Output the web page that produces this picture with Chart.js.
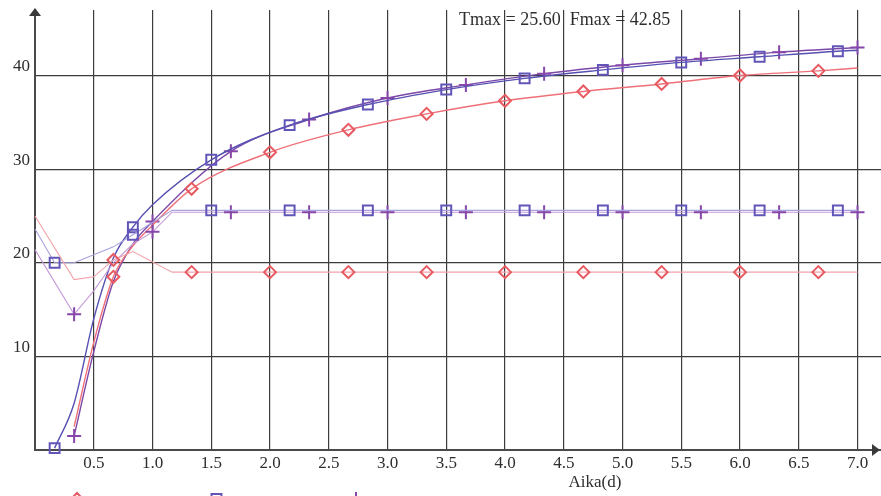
<!DOCTYPE html>
<html>
<head>
<meta charset="utf-8">
<script src="https://cdn.jsdelivr.net/npm/chart.js@4"></script>
<style>
  body { margin: 0; background: #fff; }
  canvas { display: block; }
</style>
</head>
<body>
<canvas id="chart" width="881" height="496"></canvas>
<script>
// days (d) and values
const redRiseX = [0.333, 0.5, 0.667, 0.833, 1.0, 1.333, 2.0, 2.667, 3.333, 4.0, 4.667, 5.333, 6.0, 6.667, 7.0];
const redRiseY = [2.5, 11.5, 18.5, 21.8, 24.0, 27.9, 31.8, 34.2, 35.9, 37.3, 38.3, 39.1, 40.0, 40.5, 40.8];

const redFlatX = [0, 0.333, 0.5, 0.667, 0.833, 1.167, 1.333, 2.0, 2.667, 3.333, 4.0, 4.667, 5.333, 6.0, 6.667, 7.0];
const redFlatY = [25.0, 18.2, 18.5, 20.3, 21.2, 19.0, 19.0, 19.0, 19.0, 19.0, 19.0, 19.0, 19.0, 19.0, 19.0, 19.0];

const blueRiseX = [0.167, 0.333, 0.5, 0.667, 0.833, 1.0, 1.5, 2.167, 2.833, 3.5, 4.167, 4.833, 5.5, 6.167, 6.833, 7.0];
const blueRiseY = [0.2, 5.0, 14.0, 20.5, 23.8, 26.2, 31.0, 34.7, 36.9, 38.5, 39.7, 40.6, 41.4, 42.0, 42.6, 42.7];

const blueFlatX = [0, 0.167, 0.333, 0.667, 0.833, 1.167, 1.5, 2.167, 2.833, 3.5, 4.167, 4.833, 5.5, 6.167, 6.833, 7.0];
const blueFlatY = [23.6, 20.0, 20.0, 21.7, 23.0, 25.6, 25.6, 25.6, 25.6, 25.6, 25.6, 25.6, 25.6, 25.6, 25.6, 25.6];

const purpleRiseX = [0.333, 0.5, 0.667, 0.833, 1.0, 1.667, 2.333, 3.0, 3.667, 4.333, 5.0, 5.667, 6.333, 7.0];
const purpleRiseY = [1.5, 10.5, 18.0, 22.0, 24.4, 31.9, 35.3, 37.6, 39.0, 40.2, 41.1, 41.8, 42.5, 43.0];

const purpleFlatX = [0, 0.333, 0.5, 0.667, 0.833, 1.0, 1.167, 1.667, 2.333, 3.0, 3.667, 4.333, 5.0, 5.667, 6.333, 7.0];
const purpleFlatY = [21.4, 14.5, 17.0, 20.0, 22.0, 23.3, 25.4, 25.4, 25.4, 25.4, 25.4, 25.4, 25.4, 25.4, 25.4, 25.4];

const infoText = 'Tmax = 25.60  Fmax = 42.85';
const xTitle = 'Aika(d)';

const SERIF = "'Liberation Serif', 'DejaVu Serif', serif";
const RED = '#e85a62';
const BLUE = '#6156b8';
const PURPLE = '#8646aa';

// a marker every 4th sample (samples are 1/6 d apart), each series shifted by one
function makeSet(xs, ys, marker, lineColor, style, offset, size, smooth) {
  return {
    data: xs.map((x, i) => ({ x: x, y: ys[i] })),
    borderColor: lineColor,
    borderWidth: smooth ? 1.4 : 1.1,
    pointStyle: style,
    pointBorderColor: marker,
    pointBackgroundColor: 'rgba(0,0,0,0)',
    pointBorderWidth: 2,
    pointRadius: ctx => {
      if (!ctx.raw) return 0;
      const k = Math.round(ctx.raw.x * 6);
      return k > 0 && k % 4 === offset ? size : 0;
    },
    cubicInterpolationMode: smooth ? 'monotone' : 'default',
    tension: 0,
    clip: false
  };
}

function noPad(s) {
  s.paddingLeft = 0;
  s.paddingRight = 0;
  s.paddingTop = 0;
  s.paddingBottom = 0;
}

const decor = {
  id: 'decor',
  afterDraw(chart) {
    const ctx = chart.ctx;
    const a = chart.chartArea;
    ctx.save();
    ctx.fillStyle = '#3a3a3a';
    // axis arrows
    ctx.beginPath();
    ctx.moveTo(a.left - 6, a.top + 6);
    ctx.lineTo(a.left, a.top - 2);
    ctx.lineTo(a.left + 6, a.top + 6);
    ctx.closePath();
    ctx.fill();
    ctx.beginPath();
    ctx.moveTo(a.right - 9, a.bottom - 6);
    ctx.lineTo(a.right - 1, a.bottom);
    ctx.lineTo(a.right - 9, a.bottom + 6);
    ctx.closePath();
    ctx.fill();

    ctx.fillStyle = '#2e2e2e';
    ctx.font = '18px ' + SERIF;
    ctx.textBaseline = 'alphabetic';
    ctx.textAlign = 'left';
    ctx.fillText(infoText, 459, 25);
    ctx.font = '17px ' + SERIF;
    ctx.textAlign = 'center';
    ctx.fillText(xTitle, 595, 487);

    // legend, cut off by the page edge
    const items = [[0, 'rectRot', RED, 6], [2, 'rect', BLUE, 7], [4, 'cross', PURPLE, 7]];
    items.forEach((it, i) => {
      ctx.lineWidth = 2;
      ctx.strokeStyle = it[2];
      ctx.fillStyle = 'rgba(0,0,0,0)';
      Chart.helpers.drawPoint(ctx, { pointStyle: it[1], radius: it[3], borderWidth: 2 }, 77 + i * 139.5, 499);
    });
    ctx.restore();
  }
};

new Chart(document.getElementById('chart'), {
  type: 'line',
  data: {
    datasets: [
      makeSet(redFlatX, redFlatY, RED, '#f2a2aa', 'rectRot', 0, 6, false),
      makeSet(blueFlatX, blueFlatY, BLUE, '#a8a2dc', 'rect', 1, 7, false),
      makeSet(purpleFlatX, purpleFlatY, PURPLE, '#c79ad8', 'cross', 2, 7, false),
      makeSet(redRiseX, redRiseY, RED, '#ef7078', 'rectRot', 0, 6, true),
      makeSet(blueRiseX, blueRiseY, BLUE, '#5650b2', 'rect', 1, 7, true),
      makeSet(purpleRiseX, purpleRiseY, PURPLE, '#7c48a8', 'cross', 2, 7, true)
    ]
  },
  options: {
    responsive: false,
    devicePixelRatio: 1,
    animation: false,
    layout: { autoPadding: false, padding: { top: 10, right: 0, left: 0, bottom: 0 } },
    plugins: {
      legend: { display: false },
      tooltip: { enabled: false }
    },
    scales: {
      x: {
        type: 'linear',
        min: 0,
        max: 7.2,
        afterFit: s => { s.height = 46; noPad(s); },
        grid: { color: '#3c3c3c', lineWidth: 1.2, drawTicks: false },
        border: { color: '#4a4a4a', width: 2 },
        ticks: {
          stepSize: 0.5,
          includeBounds: false,
          autoSkip: false,
          maxRotation: 0,
          padding: 3,
          color: '#2e2e2e',
          font: { family: SERIF, size: 17 },
          callback: v => v === 0 ? '' : v.toFixed(1)
        }
      },
      y: {
        min: 0,
        max: 47,
        afterFit: s => { s.width = 35; noPad(s); },
        grid: { color: '#3c3c3c', lineWidth: 1.2, drawTicks: false },
        border: { color: '#4a4a4a', width: 2 },
        ticks: {
          stepSize: 10,
          includeBounds: false,
          padding: 5,
          labelOffset: -9,
          color: '#2e2e2e',
          font: { family: SERIF, size: 17 },
          callback: v => v === 0 ? '' : v
        }
      }
    }
  },
  plugins: [decor]
});
</script>
</body>
</html>
